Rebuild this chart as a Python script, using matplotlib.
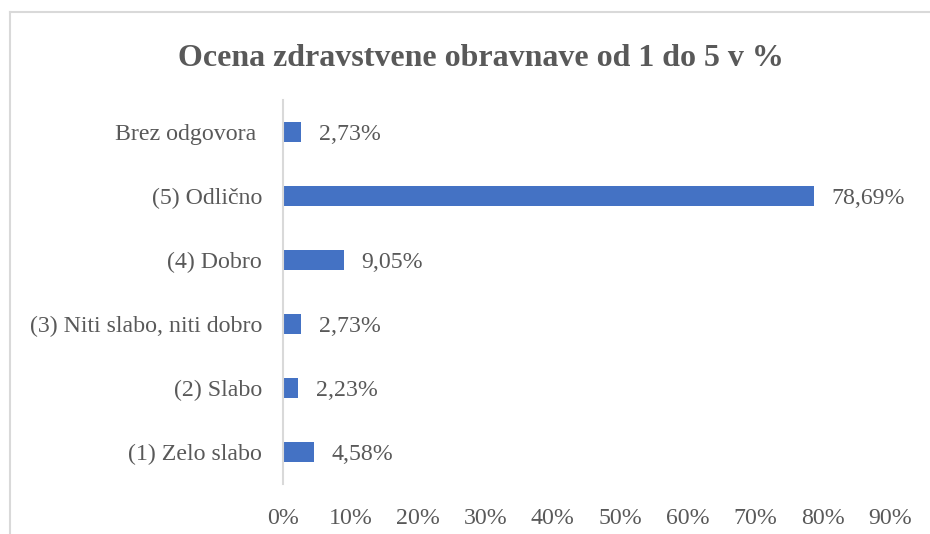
import matplotlib
matplotlib.use("Agg")
import matplotlib.pyplot as plt
from matplotlib.lines import Line2D

categories = ["(1) Zelo slabo", "(2) Slabo", "(3) Niti slabo, niti dobro",
              "(4) Dobro", "(5) Odlično", "Brez odgovora "]
values = [4.58, 2.23, 2.73, 9.05, 78.69, 2.73]
value_labels = ["4,58%", "2,23%", "2,73%", "9,05%", "78,69%", "2,73%"]
xticks = [0, 10, 20, 30, 40, 50, 60, 70, 80, 90]
xtick_labels = [f"{t}%" for t in xticks]
title = "Ocena zdravstvene obravnave od 1 do 5 v %"

plt.rcParams['font.family'] = ['Liberation Serif', 'DejaVu Serif']
txt = "#595959"
fs = 17.2

fig = plt.figure(figsize=(9.30, 5.34), dpi=100)
ax = fig.add_axes([283/930, 1-484/534, (890-283)/930, 384/534])

y = list(range(len(categories)))
ax.barh(y, values, height=0.31, color="#4472C4")
for yi, v, lab in zip(y, values, value_labels):
    ax.text(v + 2.6, yi, lab, va="center_baseline", ha="left", fontsize=fs, color=txt)

ax.set_xlim(0, 90)
ax.set_ylim(-0.5, len(categories) - 0.5)
ax.set_yticks(y)
ax.set_yticklabels(categories, fontsize=fs, color=txt, va="center_baseline")
ax.set_xticks(xticks)
ax.set_xticklabels(xtick_labels, fontsize=fs, color=txt)
ax.tick_params(axis='both', length=0)
ax.tick_params(axis='y', pad=15)
ax.tick_params(axis='x', pad=17)
for s in ["top", "right", "bottom"]:
    ax.spines[s].set_visible(False)
ax.spines["left"].set_color("#D9D9D9")
ax.spines["left"].set_linewidth(1.5)

fig.text(481/930, 1-59/534, title, ha="center", va="center",
         fontsize=23, fontweight="bold", color=txt)

# chart frame (left and top edges visible)
fig.add_artist(Line2D([10/930, 10/930], [0, 1-12/534], transform=fig.transFigure,
                      color="#D9D9D9", lw=1.5))
fig.add_artist(Line2D([10/930, 1], [1-12/534, 1-12/534], transform=fig.transFigure,
                      color="#D9D9D9", lw=1.5))

fig.savefig("out.png", dpi=100)
